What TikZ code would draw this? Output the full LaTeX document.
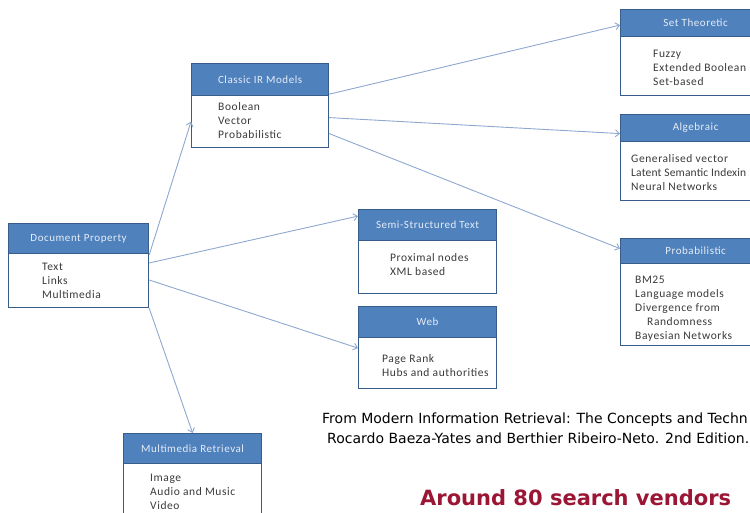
\documentclass[tikz,border=0pt]{standalone}
\usepackage{fontspec}
\setmainfont{Carlito}[LetterSpace=5]
\newfontfamily\notefont{DejaVu Sans}
\newfontfamily\tightfont{Carlito}[LetterSpace=1.5]
\usetikzlibrary{arrows.meta}
\definecolor{hdrblue}{HTML}{4F81BD}
\definecolor{bdrblue}{HTML}{385D8A}
\definecolor{arrowblue}{HTML}{8EA8D0}
\definecolor{bodytext}{HTML}{3A3A3A}
\definecolor{hdrtext}{HTML}{E6EDF7}
\definecolor{vendorred}{HTML}{9B1534}
\begin{document}
\begin{tikzpicture}[x=1pt,y=-1pt,
 hdr/.style={draw=bdrblue, line width=1.2pt, fill=hdrblue, anchor=north west, inner sep=0pt, text=hdrtext, font=\fontsize{11}{12}\selectfont},
 bodybox/.style={draw=bdrblue, line width=1.2pt, fill=white, anchor=north west, inner sep=0pt},
 bodytxt/.style={anchor=north west, inner sep=0pt, align=left, text=bodytext, font=\fontsize{11.5}{14}\selectfont},
 link/.style={draw=arrowblue, line width=0.9pt, -{Straight Barb[length=4pt,width=7pt]}},
 note/.style={anchor=base west, inner sep=0pt, font=\notefont\fontsize{14}{16}\selectfont, text=black},
]
\useasboundingbox (0,0) rectangle (750,513);
\clip (0,0) rectangle (750,513);

% Document Property
\node[hdr, minimum width=140pt, minimum height=30pt] (dph) at (8,223) {Document Property};
\node[bodybox, minimum width=140pt, minimum height=54pt] (dpb) at (8,253) {};
\node[bodytxt] (dpt) at (42,263) {Text\\Links\\Multimedia};

% Classic IR Models
\node[hdr, minimum width=137pt, minimum height=32pt] (clh) at (191,63) {Classic IR Models};
\node[bodybox, minimum width=137pt, minimum height=52pt] (clb) at (191,95) {};
\node[bodytxt] (clt) at (218,102) {Boolean\\Vector\\Probabilistic};

% Set Theoretic
\node[hdr, minimum width=150pt, minimum height=27pt] (seth) at (620,9) {Set Theoretic};
\node[bodybox, minimum width=150pt, minimum height=59pt] (setb) at (620,36) {};
\node[bodytxt] (sett) at (653,50) {Fuzzy\\Extended Boolean\\Set-based};

% Algebraic
\node[hdr, minimum width=150pt, minimum height=27pt] (algh) at (620,114) {Algebraic};
\node[bodybox, minimum width=150pt, minimum height=59pt] (algb) at (620,141) {};
\node[bodytxt] (algt) at (631,154) {Generalised vector\\{\tightfont Latent Semantic Indexin}\\Neural Networks};

% Probabilistic
\node[hdr, minimum width=150pt, minimum height=25pt] (probh) at (620,238) {Probabilistic};
\node[bodybox, minimum width=150pt, minimum height=82pt] (probb) at (620,263) {};
\node[bodytxt] (probt) at (635,276) {BM25\\Language models\\Divergence from\\\hspace{12pt}Randomness\\Bayesian Networks};

% Semi-Structured Text
\node[hdr, minimum width=138pt, minimum height=31pt] (ssh) at (358,209) {Semi-Structured Text};
\node[bodybox, minimum width=138pt, minimum height=53pt] (ssb) at (358,240) {};
\node[bodytxt] (sst) at (390,253) {Proximal nodes\\XML based};

% Web
\node[hdr, minimum width=138pt, minimum height=31pt] (webh) at (358,306) {Web};
\node[bodybox, minimum width=138pt, minimum height=51pt] (webb) at (358,337) {};
\node[bodytxt] (webt) at (382,354) {Page Rank\\Hubs and authorities};

% Multimedia Retrieval
\node[hdr, minimum width=138pt, minimum height=30pt] (mmh) at (123,433) {Multimedia Retrieval};
\node[bodybox, minimum width=138pt, minimum height=60pt] (mmb) at (123,463) {};
\node[bodytxt] (mmt) at (150,474) {Image\\Audio and Music\\Video};

% Connectors
\draw[link] ([yshift=-2pt]dpb.north east) -- (clb.west);
\draw[link] ([yshift=-10pt]dpb.north east) -- ([yshift=9pt]ssh.west);
\draw[link] ([yshift=-27pt]dpb.north east) -- ([yshift=15pt]webb.west);
\draw[link] (dpb.south east) -- (mmh.north);
\draw[link] ([yshift=2pt]clh.south east) -- ([yshift=-2pt]seth.west);
\draw[link] ([yshift=4pt]clb.east) -- ([yshift=-5.5pt]algh.west);
\draw[link] ([yshift=-12pt]clb.east) -- ([yshift=2.5pt]probh.west);

% Notes
\node[note] (n1) at (322,423) {From Modern Information Retrieval: The Concepts and Techn};
\node[note] (n2) at (327,443) {Rocardo Baeza-Yates and Berthier Ribeiro-Neto. 2nd Edition.};
\node[anchor=base west, inner sep=0pt, font=\notefont\bfseries\fontsize{21}{24}\selectfont, text=vendorred] (vend) at (420,505) {Around 80 search vendors};
\end{tikzpicture}
\end{document}
